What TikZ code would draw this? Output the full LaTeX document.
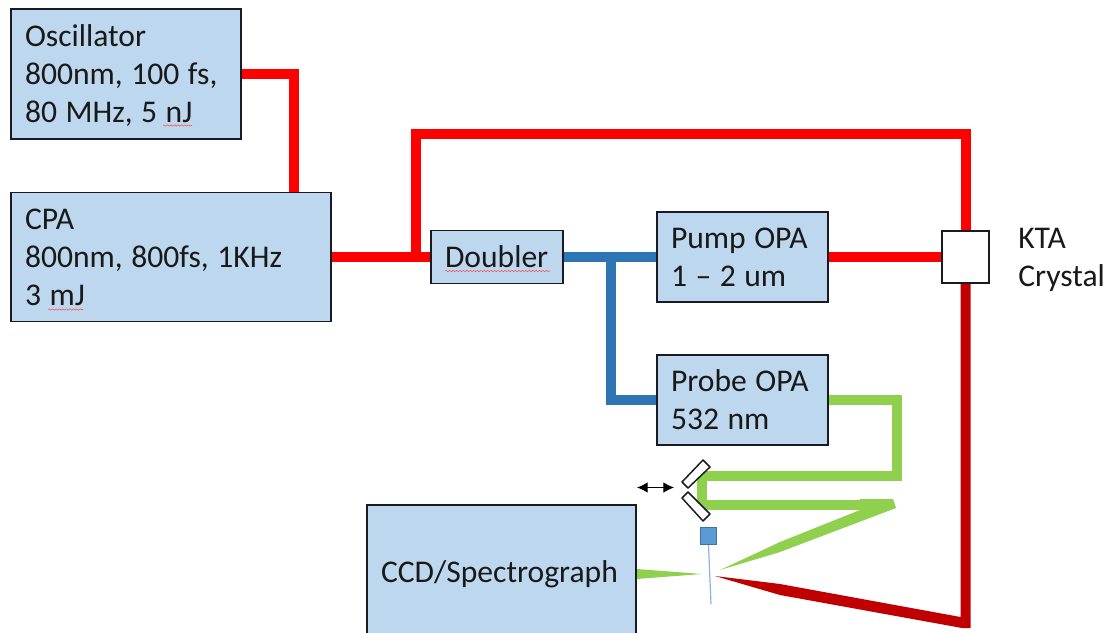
\documentclass[tikz,border=0pt]{standalone}
\usepackage{fontspec}
\setmainfont{Carlito}
\usetikzlibrary{backgrounds,decorations.pathmorphing,arrows.meta}
\definecolor{boxfill}{HTML}{BDD7EE}
\definecolor{boxedge}{HTML}{1A1A24}
\definecolor{beamred}{HTML}{FF0000}
\definecolor{beamdark}{HTML}{C00000}
\definecolor{beamblue}{HTML}{2E75B6}
\definecolor{beamgreen}{HTML}{8FD14F}
\definecolor{slitfill}{HTML}{5B9BD5}
\definecolor{slitedge}{HTML}{41719C}
\definecolor{slitline}{HTML}{8DB4DC}
\newcommand{\tp}{\spaceskip=0.27em\xspaceskip=0.27em\relax\rule{0pt}{21pt}}
\newcommand{\bt}{\rule[-6pt]{0pt}{6pt}}
\newcommand{\labelfont}{\fontsize{23.7}{28.5}\selectfont}
\tikzset{
  px/.style={x=0.75pt,y=-0.75pt},
  bx/.style 2 args={draw=boxedge,fill=boxfill,line width=1.1pt,rectangle,inner sep=0pt,
    minimum width=#1*0.75pt,minimum height=#2*0.75pt,text width=(#1-28)*0.75pt,align=left,
    font=\labelfont,text=black!90},
  redbeam/.style={draw=beamred,line width=7.5pt,miter limit=10},
  bluebeam/.style={draw=beamblue,line width=7.5pt},
  greenbeam/.style={draw=beamgreen,line width=7.5pt},
  mirror/.style={draw=boxedge,fill=white,line width=1.1pt,line join=round},
  spell/.style={draw=red!70!white,line width=0.4pt,decorate,decoration={snake,amplitude=0.5pt,segment length=2.6pt}}
}
\begin{document}
\begin{tikzpicture}[px]
\clip (0,0) rectangle (1110,632);
% boxes
\node[bx={230}{130}] (osc) at (126,74) {\tp Oscillator\\800nm, 100 fs,\\80 MHz, 5 nJ\bt};
\node[bx={320}{129}] (cpa) at (171,257) {\tp CPA\\800nm, 800fs, 1KHz\\3 mJ\bt};
\node[bx={132}{53}] (dbl) at (497,257) {\tp Doubler\bt};
\node[bx={171}{90}] (pump) at (742.5,257) {\tp Pump OPA\\1 – 2 um\bt};
\node[bx={171}{90}] (probe) at (742.5,400) {\tp Probe OPA\\532 nm\bt};
\node[bx={269}{135}] (ccd) at (501.5,572.5) {\tp CCD/Spectrograph\bt};
\node[draw=boxedge,fill=white,line width=1.1pt,inner sep=0pt,minimum width=35.25pt,minimum height=39pt] (kta) at (965.5,257) {};
\node[anchor=west,inner sep=0pt,align=left,font=\labelfont,text=black!90] (ktal) at (1018,257) {\tp KTA\\Crystal\bt};
\node[draw=slitedge,fill=slitfill,line width=0.8pt,inner sep=0pt,minimum width=12.5pt,minimum height=13pt] (slit) at (708.5,536) {};
\coordinate (slitend) at (711,604);
\coordinate (armL) at (637,487.5);
\coordinate (armR) at (674,487.5);
\coordinate (j1) at (416,257);
\coordinate (j2) at (611,257);
\coordinate (c1) at (294,193);
\coordinate (top) at (965.5,134);
\coordinate (g1) at (897,475.5);
\coordinate (g2) at (701.5,475.5);
\coordinate (g3) at (701.5,504.5);
\coordinate (g4) at (870,504.5);
% spell-check marks
\draw[spell] (163,125.5) -- (192,125.5);
\draw[spell] (48,309.5) -- (83,309.5);
\draw[spell] (445,271) -- (550,271);
\begin{scope}[on background layer]
  \draw[redbeam] (osc.east) -| (c1);
  \draw[redbeam] (cpa.east) -- (dbl.west);
  \draw[redbeam] (j1) |- (top) -- (kta.north);
  \draw[redbeam] (pump.east) -- (kta.west);
  \draw[bluebeam] (dbl.east) -- (pump.west);
  \draw[bluebeam] (j2) |- (probe.west);
  \draw[greenbeam] (probe.east) -| (g1) -- (g2) -- (g3) -- (g4);
  \fill[beamgreen] (860,499) -- (893,499) -- (896,508) -- (780,552) -- (720,570) -- (780,542) -- (860,510) -- cycle;
  \fill[beamgreen] (ccd.east |- 0,569) -- (702,574) -- (ccd.east |- 0,579) -- cycle;
  \fill[beamdark] (960.5,280) -- (970.5,280) -- (970.5,628) -- (962,628) -- (780,595) -- (715,576) -- (780,584) -- (960.5,617) -- cycle;
\end{scope}
% mirrors, translation stage, sample
\draw[mirror] (682,482) -- (703,460) -- (710,467) -- (688,488) -- cycle;
\draw[mirror] (682,498) -- (688,492) -- (710,514) -- (703,521) -- cycle;
\draw[{Latex[length=8pt,width=8pt]}-{Latex[length=8pt,width=8pt]},line width=0.7pt,black] (armL) -- (armR);
\draw[slitline,line width=0.9pt] (slit.south) -- (slitend);
\end{tikzpicture}
\end{document}
